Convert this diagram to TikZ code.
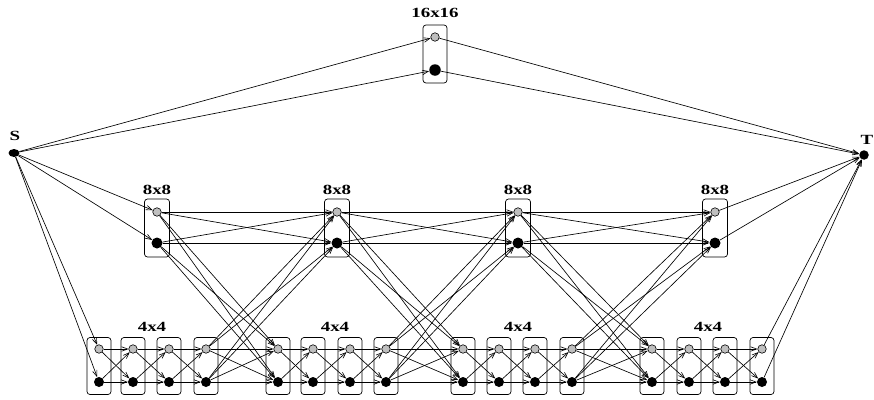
\documentclass[tikz,border=0pt]{standalone}
\usepackage{fontspec}
\setmainfont{Liberation Serif}
\usepackage{graphicx}
\usetikzlibrary{arrows.meta,shapes.geometric}
\newcommand\widelab[1]{\scalebox{1.35}[1]{#1}}
\begin{document}
\begin{tikzpicture}[x=1pt,y=-1pt,
 grn/.style={circle,draw=black,line width=0.6pt,fill=gray!50,inner sep=0pt,minimum size=8.5pt},
 blk/.style={circle,fill=black,inner sep=0pt,minimum size=11pt},
 blk4/.style={blk,minimum size=10pt},
 boxn/.style={draw=black,rounded corners=3pt,line width=0.7pt,minimum width=24pt,minimum height=57pt,inner sep=0pt},
 lbl/.style={font=\fontsize{14}{14}\selectfont\bfseries,inner sep=0pt},
 edge/.style={line width=0.65pt,-{Straight Barb[length=6pt,width=4.5pt,line width=0.6pt]}}
]
\useasboundingbox (0,0) rectangle (874,399);
% source and sink
\node[ellipse,fill=black,inner sep=0pt,minimum width=11pt,minimum height=8pt] (s) at (14,153) {};
\node[lbl] (slab) at (15,136) {\widelab{S}};
\node[blk,minimum size=9.5pt] (t) at (864,155) {};
\node[lbl] (tlab) at (867,140) {\widelab{T}};
% 16x16
\node[boxn,minimum height=58pt] (tbox) at (435,54) {};
\node[grn] (t1g) at (435,37) {};
\node[blk,minimum size=11.5pt] (t1b) at (435,70) {};
\node[lbl] (tl) at (435,13) {\widelab{16x16}};
% 8x8
\foreach \x [count=\i] in {157,337,518,715} {
  \node[boxn,minimum width=25pt,minimum height=58pt] (e\i box) at (\x,228) {};
  \node[grn] (e\i g) at (\x,212) {};
  \node[blk] (e\i b) at (\x,243) {};
  \node[lbl] (e\i lab) at (\x,190) {\widelab{8x8}};
}
% 4x4
\foreach \x [count=\i] in {99,133,169,206,278,313,350,386,463,499,535,572,652,689,725,762} {
  \node[boxn] (f\i box) at (\x,366) {};
  \node[grn] (f\i g) at (\x,349) {};
  \node[blk4] (f\i b) at (\x,382) {};
}
\foreach \x [count=\i] in {152,335,518,708} {
  \node[lbl] (flab\i) at (\x,327) {\widelab{4x4}};
}
% edges from S and to T
\foreach \n in {t1,e1,f1} {
  \draw[edge] (s) -- (\n g);
  \draw[edge] (s) -- (\n b);
}
\foreach \n in {t1,e4,f16} {
  \draw[edge] (\n g) -- (t);
  \draw[edge] (\n b) -- (t);
}
% block transitions
\foreach \a/\b in {f1/f2,f2/f3,f3/f4,f4/f5,f5/f6,f6/f7,f7/f8,f8/f9,f9/f10,f10/f11,f11/f12,f12/f13,f13/f14,f14/f15,f15/f16,
                   e1/e2,e2/e3,e3/e4,f4/e2,f8/e3,f12/e4,e1/f5,e2/f9,e3/f13} {
  \foreach \p in {g,b} {
    \foreach \q in {g,b} {
      \draw[edge] (\a\p) -- (\b\q);
    }
  }
}
\end{tikzpicture}
\end{document}
